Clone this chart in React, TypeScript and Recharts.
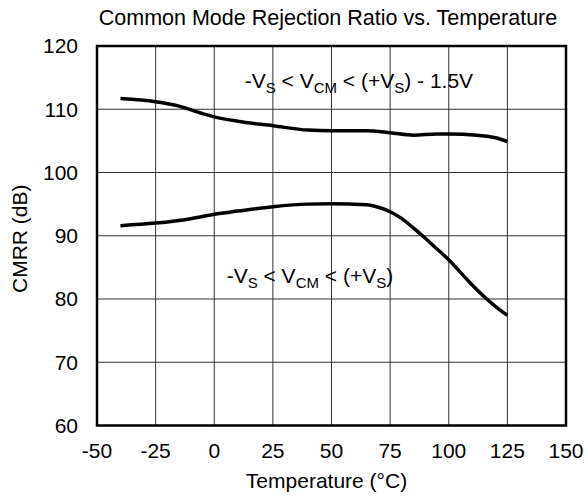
import React from 'react';
import { LineChart, Line, XAxis, YAxis, CartesianGrid, ReferenceArea, ReferenceDot, Customized } from 'recharts';

const upperTemps = [-40, -25, -15, -5, 0, 10, 25, 40, 50, 65, 75, 85, 95, 100, 112, 120, 125];
const upperCmrr = [111.7, 111.2, 110.5, 109.3, 108.8, 108.1, 107.4, 106.7, 106.6, 106.6, 106.3, 105.9, 106.1, 106.1, 105.9, 105.5, 104.9];

const lowerTemps = [-40, -25, -10, 0, 10, 25, 40, 50, 65, 70, 75, 80, 85, 90, 95, 100, 105, 110, 115, 120, 125];
const lowerCmrr = [91.6, 92.0, 92.7, 93.4, 93.9, 94.6, 95.0, 95.05, 94.9, 94.5, 93.8, 92.7, 91.2, 89.6, 87.9, 86.2, 84.2, 82.2, 80.4, 78.8, 77.4];

const xTicks = [-50, -25, 0, 25, 50, 75, 100, 125, 150];
const yTicks = [60, 70, 80, 90, 100, 110, 120];

const upperData = upperTemps.map((t, i) => ({ t, v: upperCmrr[i] }));
const lowerData = lowerTemps.map((t, i) => ({ t, v: lowerCmrr[i] }));

const FONT = "Arial, 'Liberation Sans', Helvetica, sans-serif";
const FS = 21;
const SUB = 15;

const makeAnnotation = (withOffset: boolean) => (props: any) => {
  const vb = props.viewBox || {};
  const x = vb.x + (vb.width || 0) / 2;
  const y = vb.y + (vb.height || 0) / 2;
  return (
    <text x={x} y={y} textAnchor="middle" fontFamily={FONT} fontSize={FS} fill="#000">
      <tspan>-V</tspan>
      <tspan dy={5} fontSize={SUB}>S</tspan>
      <tspan dy={-5}>{' < V'}</tspan>
      <tspan dy={5} fontSize={SUB}>CM</tspan>
      <tspan dy={-5}>{' < (+V'}</tspan>
      <tspan dy={5} fontSize={SUB}>S</tspan>
      <tspan dy={-5}>{withOffset ? ') - 1.5V' : ')'}</tspan>
    </text>
  );
};

const Title = () => (
  <text x={328} y={25} textAnchor="middle" fontFamily={FONT} fontSize={21.5} fill="#000">
    Common Mode Rejection Ratio vs. Temperature
  </text>
);

export default function App() {
  return (
    <div style={{ position: 'absolute', left: 0, top: 0, background: '#fff' }}>
      <LineChart width={587} height={497} margin={{ top: 46, right: 21, left: 0, bottom: 31.5 }}>
        <CartesianGrid stroke="#333" strokeWidth={1} horizontal vertical />
        <XAxis
          dataKey="t"
          type="number"
          domain={[-50, 150]}
          ticks={xTicks}
          allowDataOverflow
          height={40}
          tickLine={false}
          axisLine={false}
          tickSize={0}
          tickMargin={17.5}
          tick={{ fontSize: FS, fill: '#000', fontFamily: FONT }}
          label={{
            content: (p: any) => {
              const vb = p.viewBox || {};
              return (
                <text x={vb.x + vb.width / 2 - 5} y={488} textAnchor="middle" fontFamily={FONT} fontSize={FS} fill="#000">
                  Temperature (°C)
                </text>
              );
            },
          }}
        />
        <YAxis
          type="number"
          domain={[60, 120]}
          ticks={yTicks}
          allowDataOverflow
          width={97}
          tickLine={false}
          axisLine={false}
          tickSize={0}
          tickMargin={19}
          tick={{ fontSize: FS, fill: '#000', fontFamily: FONT }}
          label={{
            content: (p: any) => {
              const vb = p.viewBox || {};
              const cx = 19;
              const cy = vb.y + vb.height / 2 + 3;
              return (
                <text
                  x={cx}
                  y={cy}
                  textAnchor="middle"
                  dominantBaseline="central"
                  transform={`rotate(-90 ${cx} ${cy})`}
                  fontFamily={FONT}
                  fontSize={FS}
                  fill="#000"
                >
                  CMRR (dB)
                </text>
              );
            },
          }}
        />
        <ReferenceArea x1={-50} x2={150} y1={60} y2={120} fill="none" stroke="#000" strokeWidth={2.5} fillOpacity={0} />
        <Line
          data={upperData}
          dataKey="v"
          type="monotone"
          stroke="#000"
          strokeWidth={3.5}
          dot={false}
          isAnimationActive={false}
        />
        <Line
          data={lowerData}
          dataKey="v"
          type="monotone"
          stroke="#000"
          strokeWidth={3.5}
          dot={false}
          isAnimationActive={false}
        />
        <ReferenceDot x={61.7} y={113.4} r={0} stroke="none" fill="none" label={{ content: makeAnnotation(true) }} />
        <ReferenceDot x={40.8} y={82.6} r={0} stroke="none" fill="none" label={{ content: makeAnnotation(false) }} />
        <Customized component={<Title />} />
      </LineChart>
    </div>
  );
}
